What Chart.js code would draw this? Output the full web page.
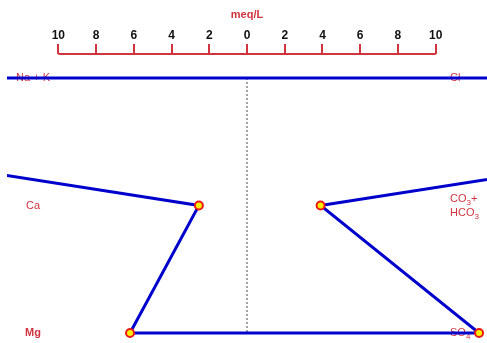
<!DOCTYPE html>
<html>
<head>
<meta charset="utf-8">
<script src="https://cdn.jsdelivr.net/npm/chart.js@4.4.1/dist/chart.umd.min.js"></script>
<style>
  html, body { margin: 0; padding: 0; background: #fff; }
  #stiff { display: block; }
</style>
</head>
<body>
<canvas id="stiff" width="487" height="343"></canvas>
<script>
// cations on the left, anions on the right, one row per ion pair (meq/L)
const cationNames = ['Na + K', 'Ca', 'Mg'];
const cationValues = [45.7, 2.55, 6.2];
const anionNames = ['Cl', 'CO3+HCO3', 'SO4'];
const anionValues = [47.1, 3.9, 12.3];
const scaleTicks = [-10, -8, -6, -4, -2, 0, 2, 4, 6, 8, 10];

const RED = '#d0343f';
const BLUE = '#0000cc';

// closed polygon: top cation, down the anion side, back up the cation side
const polygon = [{ x: -cationValues[0], y: 0 }];
anionValues.forEach((v, i) => polygon.push({ x: v, y: i }));
for (let i = cationValues.length - 1; i >= 0; i--) {
    polygon.push({ x: -cationValues[i], y: i });
}

// meq/L scale drawn above the plot
const topScale = {
    id: 'topScale',
    afterDraw(chart) {
        const ctx = chart.ctx;
        const x = chart.scales.x;
        const axisY = 54;
        const left = x.getPixelForValue(scaleTicks[0]);
        const right = x.getPixelForValue(scaleTicks[scaleTicks.length - 1]);
        ctx.save();
        ctx.strokeStyle = RED;
        ctx.lineWidth = 2;
        ctx.beginPath();
        ctx.moveTo(left, axisY);
        ctx.lineTo(right, axisY);
        scaleTicks.forEach(t => {
            const px = Math.round(x.getPixelForValue(t));
            ctx.moveTo(px, axisY);
            ctx.lineTo(px, axisY - 10);
        });
        ctx.stroke();

        ctx.fillStyle = '#111';
        ctx.font = 'bold 12px "Liberation Sans Narrow", "Liberation Sans", Arial, sans-serif';
        ctx.textAlign = 'center';
        ctx.textBaseline = 'middle';
        scaleTicks.forEach(t => {
            ctx.fillText(String(Math.abs(t)), x.getPixelForValue(t), 36);
        });

        ctx.fillStyle = RED;
        ctx.font = 'bold 11px "Liberation Sans", Arial, sans-serif';
        ctx.fillText('meq/L', x.getPixelForValue(0), 15);
        ctx.restore();
    }
};

// draws text made of normal and subscript parts starting at x
function drawChem(ctx, parts, x, y) {
    let cx = x;
    parts.forEach(([text, sub]) => {
        ctx.font = sub ? '8px "Liberation Sans", Arial, sans-serif'
                       : '11px "Liberation Sans", Arial, sans-serif';
        ctx.fillText(text, cx, sub ? y + 4 : y);
        cx += ctx.measureText(text).width;
    });
}

// ion names, drawn under the polygon
const ionLabels = {
    id: 'ionLabels',
    beforeDatasetsDraw(chart) {
        const ctx = chart.ctx;
        const y = chart.scales.y;
        ctx.save();
        ctx.fillStyle = RED;
        ctx.textBaseline = 'middle';

        ctx.textAlign = 'center';
        cationNames.forEach((name, i) => {
            ctx.font = (i === 2 ? 'bold ' : '') + '11px "Liberation Sans", Arial, sans-serif';
            ctx.fillText(name, 33, y.getPixelForValue(i));
        });

        ctx.textAlign = 'left';
        const ax = 450;
        drawChem(ctx, [['Cl', false]], ax, y.getPixelForValue(0));
        const r1 = y.getPixelForValue(1);
        drawChem(ctx, [['CO', false], ['3', true], ['+', false]], ax, r1 - 7);
        drawChem(ctx, [['HCO', false], ['3', true]], ax, r1 + 7);
        drawChem(ctx, [['SO', false], ['4', true]], ax, y.getPixelForValue(2));
        ctx.restore();
    }
};

new Chart(document.getElementById('stiff'), {
    type: 'scatter',
    data: {
        datasets: [{
            data: polygon,
            showLine: true,
            borderColor: BLUE,
            borderWidth: 3,
            tension: 0,
            pointRadius: 4,
            pointBorderWidth: 2,
            pointBackgroundColor: '#ffee00',
            pointBorderColor: '#e81818',
            clip: { left: 0, right: 0, top: 8, bottom: 8 },
            order: 1
        }, {
            // zero line between cations and anions
            data: [{ x: 0, y: 0 }, { x: 0, y: 2 }],
            showLine: true,
            borderColor: '#444',
            borderWidth: 1,
            borderDash: [2, 2],
            pointRadius: 0,
            order: 2
        }]
    },
    options: {
        responsive: false,
        animation: false,
        layout: { autoPadding: false, padding: { left: 7, right: 0, top: 78, bottom: 10 } },
        scales: {
            x: { type: 'linear', min: -12.72, max: 12.72, display: false },
            y: { type: 'linear', min: 0, max: 2, reverse: true, display: false }
        },
        plugins: {
            legend: { display: false },
            tooltip: { enabled: false }
        }
    },
    plugins: [ionLabels, topScale]
});
</script>
</body>
</html>
